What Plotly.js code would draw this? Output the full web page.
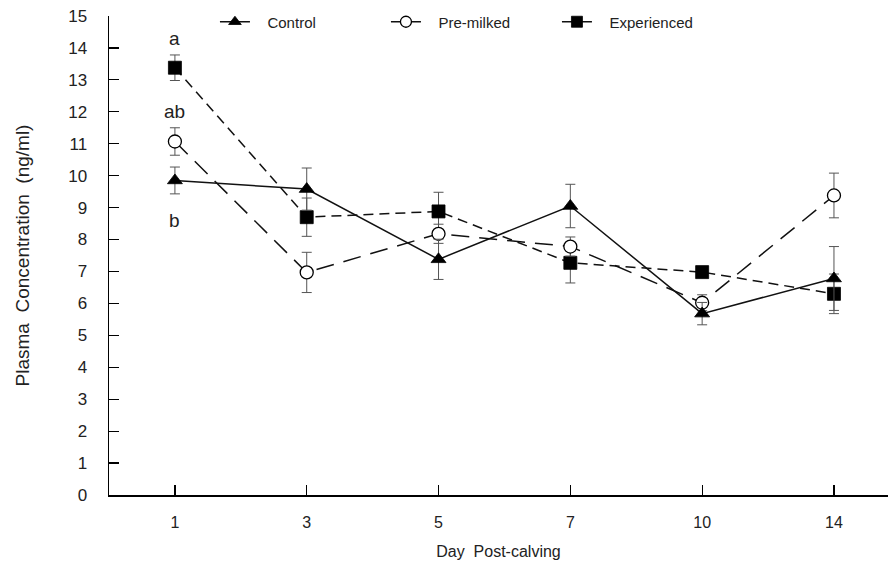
<!DOCTYPE html>
<html>
<head>
<meta charset="utf-8">
<script src="https://cdn.plot.ly/plotly-3.0.1.min.js"></script>
<style>body{margin:0;background:#fff}#chart{width:888px;height:570px}</style>
</head>
<body>
<div id="chart"></div>
<script>
const days = ["1", "3", "5", "7", "10", "14"];
const control = [9.85, 9.58, 7.38, 9.05, 5.68, 6.78];
const controlErr = [0.42, 0.66, 0.63, 0.68, 0.35, 1.0];
const premilked = [11.07, 6.97, 8.18, 7.78, 6.02, 9.38];
const premilkedErr = [0.43, 0.63, 0.3, 0.3, 0.25, 0.7];
const experienced = [13.38, 8.7, 8.88, 7.27, 6.98, 6.3];
const experiencedErr = [0.4, 0.6, 0.6, 0.63, 0.12, 0.62];
const seriesNames = ["Control", "Pre-milked", "Experienced"];
const letters = ["a", "ab", "b"];
const letterY = [14.3, 12.0, 8.6];

const errStyle = {type: "data", visible: true, color: "#555", thickness: 1, width: 5};
function markerOf(symbol, size) {
  return {symbol: symbol, size: size, color: symbol === "circle" ? "#fff" : "#000",
          line: {color: "#000", width: symbol === "circle" ? 1.3 : 0.8}};
}
function series(y, err, name, symbol, dash) {
  return {
    x: days, y: y, type: "scatter", mode: "lines+markers", name: name, showlegend: false,
    line: {color: "#111", width: 1.5, dash: dash},
    marker: markerOf(symbol, 13),
    error_y: Object.assign({array: err}, errStyle)
  };
}
function legendOnly(name, symbol) {
  return {
    x: [null], y: [null], type: "scatter", mode: "lines+markers", name: "\u00a0\u00a0\u00a0" + name, showlegend: true,
    line: {color: "#111", width: 1.5},
    marker: markerOf(symbol, 11)
  };
}
const data = [
  series(experienced, experiencedErr, seriesNames[2], "square", "10px,6px"),
  series(premilked, premilkedErr, seriesNames[1], "circle", "18px,10px"),
  series(control, controlErr, seriesNames[0], "triangle-up", "solid"),
  legendOnly(seriesNames[0], "triangle-up"),
  legendOnly(seriesNames[1], "circle"),
  legendOnly(seriesNames[2], "square")
];
const font = {family: "Liberation Sans, Arial, sans-serif", color: "#222"};
const layout = {
  width: 888, height: 570,
  margin: {l: 109, r: 0, t: 16, b: 75},
  paper_bgcolor: "#fff", plot_bgcolor: "#fff",
  font: Object.assign({size: 16}, font),
  showlegend: true,
  legend: {orientation: "h", x: 0.136, y: 0.9875, xanchor: "left", yanchor: "middle",
           font: Object.assign({size: 15}, font), entrywidth: 126, entrywidthmode: "pixels",
           bgcolor: "rgba(0,0,0,0)", traceorder: "normal", itemwidth: 30},
  xaxis: {
    type: "category", range: [-0.5, 5.41], showgrid: false, zeroline: false,
    showline: true, linecolor: "#000", linewidth: 1.5,
    ticks: "inside", ticklen: 10, tickwidth: 1.2, tickcolor: "#000",
    tickfont: Object.assign({size: 16}, font), ticklabelstandoff: 12,
    title: {text: "Day\u00a0\u00a0Post-calving", font: Object.assign({size: 16}, font), standoff: 16}
  },
  yaxis: {
    range: [0, 15], dtick: 1, showgrid: false, zeroline: false,
    showline: true, linecolor: "#000", linewidth: 1.5,
    ticks: "inside", ticklen: 10, tickwidth: 1.2, tickcolor: "#000",
    tickfont: Object.assign({size: 17}, font), ticklabelstandoff: 17,
    title: {text: "Plasma\u00a0\u00a0Concentration\u00a0\u00a0(ng/ml)", font: Object.assign({size: 19}, font), standoff: 33}
  },
  annotations: letters.map((t, i) => ({
    x: 0, y: letterY[i], xref: "x", yref: "y", text: t, showarrow: false,
    font: Object.assign({size: 19}, font)
  }))
};
Plotly.newPlot("chart", data, layout, {displayModeBar: false, staticPlot: true});
</script>
</body>
</html>
